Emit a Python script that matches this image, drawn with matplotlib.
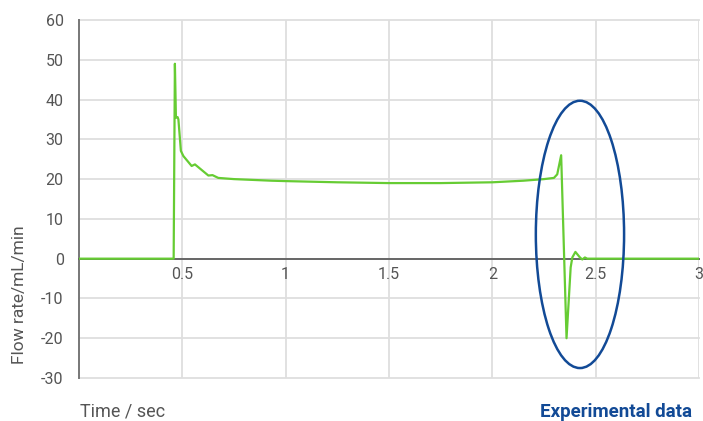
import matplotlib
matplotlib.use("Agg")
import matplotlib.pyplot as plt
from matplotlib.patches import Ellipse

plt.rcParams['font.family'] = ['Roboto', 'DejaVu Sans']
plt.rcParams['axes.unicode_minus'] = False

# Data
time_s = [0.0, 0.458, 0.464, 0.469, 0.477, 0.481, 0.493, 0.505, 0.545, 0.561,
          0.626, 0.646, 0.674, 0.75, 0.931, 1.0, 1.25, 1.5, 1.75, 2.0,
          2.15, 2.25, 2.298, 2.314, 2.333, 2.359, 2.379, 2.387, 2.402,
          2.424, 2.435, 2.448, 2.459, 2.48, 3.0]
flow = [0.0, 0.0, 49.0, 35.4, 35.6, 35.0, 27.1, 25.8, 23.3, 23.7,
        20.9, 21.0, 20.3, 20.0, 19.6, 19.5, 19.2, 19.0, 19.0, 19.2,
        19.6, 20.0, 20.3, 21.2, 26.0, -20.0, -2.2, 0.3, 1.7,
        0.3, -0.2, 0.3, 0.0, 0.0, 0.0]

x_ticks = [0.5, 1, 1.5, 2, 2.5, 3]
x_tick_labels = ['0.5', '1', '1.5', '2', '2.5', '3']
y_ticks = [-30, -20, -10, 0, 10, 20, 30, 40, 50, 60]

fig = plt.figure(figsize=(7.03, 4.21), dpi=100)
ax = fig.add_axes([79/703, 43/421, 620/703, 358/421])

ax.set_xlim(0, 3)
ax.set_ylim(-30, 60)
ax.set_xticks(x_ticks)
ax.set_xticklabels(x_tick_labels)
ax.set_yticks(y_ticks)

grid_c = '#dedede'
ax.grid(True, color=grid_c, linewidth=1.3)
ax.set_axisbelow(True)
for gl in ax.get_xgridlines() + ax.get_ygridlines():
    gl.set_clip_on(False)

for s in ['top', 'right']:
    ax.spines[s].set_visible(False)
ax.spines['bottom'].set_position(('data', 0))
ax.spines['bottom'].set_color('#666666')
ax.spines['bottom'].set_linewidth(1.4)
ax.spines['left'].set_color('#777777')
ax.spines['left'].set_linewidth(1.4)

ax.tick_params(axis='both', length=0, labelsize=11.5, labelcolor='#555555')
ax.tick_params(axis='x', pad=6)
ax.tick_params(axis='y', pad=11)

ax.plot(time_s, flow, color='#66cc33', linewidth=1.6, zorder=3)

ell = Ellipse((2.424, 6.1), 0.427, 67.2, fill=False, edgecolor='#124a96',
              linewidth=1.8, zorder=4)
ax.add_patch(ell)

fig.text(20/703, 1 - 295/421, 'Flow rate/mL/min', rotation=90, ha='center',
         va='center', fontsize=12.5, color='#555555')
fig.text(80/703, 1 - 412/421, 'Time / sec', ha='left', va='center',
         fontsize=13, color='#555555')
fig.text(692/703, 1 - 412/421, 'Experimental data', ha='right', va='center',
         fontsize=13.5, color='#124a96', fontweight='bold')

fig.savefig('out.png', dpi=100)
